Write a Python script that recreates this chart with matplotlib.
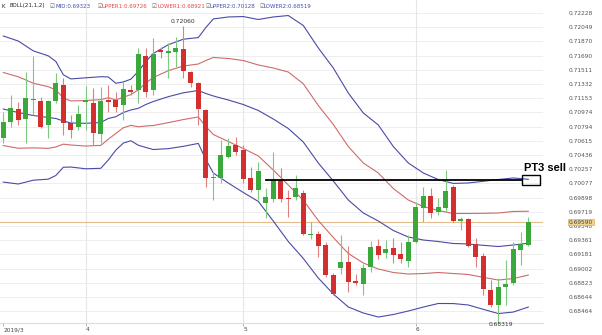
import matplotlib
matplotlib.use("Agg")
import matplotlib.pyplot as plt
import numpy as np

# ---------------- data ----------------
opens = [0.70647, 0.70849, 0.71016, 0.70886, 0.71126, 0.71117, 0.70811, 0.71117, 0.71319, 0.70836,
         0.70786, 0.71101, 0.71096, 0.70697, 0.71130, 0.71130, 0.71067, 0.71256, 0.71256, 0.71685,
         0.71256, 0.71761, 0.71727, 0.71740, 0.71770, 0.71487, 0.71341, 0.71004, 0.70142, 0.70142,
         0.70414, 0.70562, 0.70499, 0.70142, 0.69994, 0.69834, 0.69881, 0.70124, 0.69897, 0.69900,
         0.69953, 0.69430, 0.69433, 0.69304, 0.68922, 0.69006, 0.69089, 0.68846, 0.68814, 0.69026,
         0.69290, 0.69195, 0.69266, 0.69187, 0.69098, 0.69342, 0.69771, 0.69919, 0.69713, 0.69763,
         0.70036, 0.69607, 0.69624, 0.69309, 0.69161, 0.68732, 0.68543, 0.68766, 0.68824, 0.69237,
         0.69300]
highs = [0.70982, 0.71193, 0.71105, 0.71487, 0.71689, 0.71172, 0.71130, 0.71467, 0.71404, 0.70941,
         0.71067, 0.71307, 0.71278, 0.71298, 0.71319, 0.71235, 0.71361, 0.71319, 0.71782, 0.71782,
         0.71909, 0.71803, 0.71846, 0.71929, 0.72060, 0.71496, 0.71361, 0.71013, 0.70225, 0.70625,
         0.70647, 0.70667, 0.70562, 0.70288, 0.70351, 0.70016, 0.70478, 0.70272, 0.69994, 0.70184,
         0.69994, 0.69590, 0.69477, 0.69332, 0.68943, 0.69426, 0.69288, 0.68940, 0.69060, 0.69351,
         0.69382, 0.69363, 0.69385, 0.69342, 0.69426, 0.69847, 0.70036, 0.70016, 0.69893, 0.70247,
         0.70057, 0.69657, 0.69637, 0.69385, 0.69195, 0.68858, 0.68880, 0.69111, 0.69342, 0.69468,
         0.69657]
lows = [0.70587, 0.70793, 0.70815, 0.70584, 0.70941, 0.70773, 0.70654, 0.71088, 0.70688, 0.70647,
        0.70751, 0.70751, 0.70562, 0.70584, 0.70982, 0.70982, 0.70878, 0.71193, 0.71088, 0.71172,
        0.71193, 0.71656, 0.71404, 0.71550, 0.71404, 0.71298, 0.70815, 0.70036, 0.69868, 0.70079,
        0.70394, 0.70436, 0.70079, 0.69973, 0.69868, 0.69637, 0.69847, 0.69847, 0.69657, 0.69868,
        0.69426, 0.69376, 0.69152, 0.68890, 0.68670, 0.68934, 0.68701, 0.68795, 0.68663, 0.68959,
        0.69123, 0.69132, 0.69069, 0.69069, 0.69026, 0.69322, 0.69594, 0.69637, 0.69679, 0.69720,
        0.69594, 0.69489, 0.69275, 0.69026, 0.68670, 0.68521, 0.68319, 0.68543, 0.68795, 0.69048,
        0.69291]
closes = [0.70856, 0.71033, 0.70874, 0.71151, 0.71139, 0.70789, 0.71117, 0.71341, 0.70844, 0.70751,
          0.70957, 0.71126, 0.70710, 0.71117, 0.71109, 0.71045, 0.71269, 0.71227, 0.71707, 0.71235,
          0.71707, 0.71732, 0.71748, 0.71782, 0.71496, 0.71341, 0.71013, 0.70149, 0.70154, 0.70436,
          0.70553, 0.70478, 0.70133, 0.69994, 0.70230, 0.69910, 0.70117, 0.69884, 0.69884, 0.70016,
          0.69439, 0.69439, 0.69284, 0.68925, 0.68686, 0.69089, 0.68837, 0.68821, 0.69006, 0.69279,
          0.69174, 0.69250, 0.69174, 0.69120, 0.69342, 0.69776, 0.69919, 0.69700, 0.69776, 0.69982,
          0.69603, 0.69628, 0.69291, 0.69152, 0.68745, 0.68543, 0.68774, 0.68812, 0.69246, 0.69309,
          0.69590]

# Bollinger band (21, 1, 2) read at sampled candles: middle line and one standard deviation
boll_idx = [0, 2, 4, 6, 7, 8, 9, 11, 13, 14, 15, 16, 17, 18, 19, 20, 22, 24, 26, 27, 28, 29, 30,
            32, 34, 36, 38, 40, 42, 44, 46, 48, 50, 52, 54, 56, 58, 60, 62, 64, 66, 68, 70]
boll_mid = [0.71016, 0.70972, 0.70934, 0.70909, 0.70897, 0.70865, 0.70840, 0.70836, 0.70846, 0.70897,
            0.70919, 0.70972, 0.71004, 0.71025, 0.71073, 0.71111, 0.71172, 0.71221, 0.71250, 0.71212,
            0.71181, 0.71155, 0.71130, 0.71073, 0.70998, 0.70890, 0.70770, 0.70600, 0.70335, 0.70108,
            0.69868, 0.69704, 0.69603, 0.69483, 0.69401, 0.69363, 0.69344, 0.69319, 0.69313, 0.69296,
            0.69281, 0.69300, 0.69323]
boll_sd = [0.00461, 0.00451, 0.00408, 0.00389, 0.00360, 0.00292, 0.00278, 0.00287, 0.00289, 0.00262,
           0.00211, 0.00193, 0.00194, 0.00233, 0.00271, 0.00303, 0.00328, 0.00338, 0.00334, 0.00416,
           0.00486, 0.00505, 0.00524, 0.00555, 0.00574, 0.00644, 0.00713, 0.00735, 0.00726, 0.00713,
           0.00675, 0.00631, 0.00606, 0.00530, 0.00467, 0.00423, 0.00391, 0.00379, 0.00385, 0.00404,
           0.00423, 0.00423, 0.00403]

price_ticks = [0.72228, 0.72049, 0.71870, 0.71690, 0.71511, 0.71332, 0.71153, 0.70974, 0.70794,
               0.70615, 0.70436, 0.70257, 0.70077, 0.69898, 0.69719, 0.69540, 0.69361, 0.69181,
               0.69002, 0.68823, 0.68644, 0.68464]
day_idx = [0, 11, 32, 55]
day_labels = ["2019/3", "4", "5", "6"]

legend_items = [("MID", "0.69323", "#4050b0"), ("UPPER1", "0.69726", "#e04848"),
                ("LOWER1", "0.68921", "#e04848"), ("UPPER2", "0.70128", "#4050b0"),
                ("LOWER2", "0.68519", "#4050b0")]

pt3_level = 0.70120
pt3_start = 35
pt3_label = "PT3 sell"

# ---------------- drawing ----------------
W, H = 602, 335
fig = plt.figure(figsize=(W / 100, H / 100), dpi=100)
fig.patch.set_facecolor("white")
ax_left, ax_right, ax_top, ax_bot = 0, 543, 0, 323
ax = fig.add_axes([ax_left / W, 1 - ax_bot / H, (ax_right - ax_left) / W, (ax_bot - ax_top) / H])
ax.set_facecolor("white")

n = len(opens)
x = np.arange(n)
o = np.array(opens); c = np.array(closes); hi = np.array(highs); lo = np.array(lows)
up = c >= o
green, red = "#3aa83a", "#d42f2f"
green_w, red_w = "#7fc87f", "#e07f7f"

ymax = 0.72392
ymin = ymax - 0.0001262 * (ax_bot - ax_top)
ax.set_xlim(-0.44, 71.96)
ax.set_ylim(ymin, ymax)

# grid
for t in price_ticks:
    ax.axhline(t, color="#eeeeee", lw=0.7, zorder=0)
for d in day_idx[1:]:
    ax.axvline(d, color="#e6e6e6", lw=0.8, zorder=0)

# current price line
ax.axhline(closes[-1], color="#e3bd8c", lw=0.8, zorder=1)

# bands
bi = np.array(boll_idx)
bm = np.array(boll_mid); bs = np.array(boll_sd)
ax.plot(bi, bm, color="#4a4aa8", lw=0.8, zorder=2)
ax.plot(bi, bm + bs, color="#d06a6a", lw=0.8, zorder=2)
ax.plot(bi, bm - bs, color="#d06a6a", lw=0.8, zorder=2)
ax.plot(bi, bm + 2 * bs, color="#4a4aa8", lw=0.8, zorder=2)
ax.plot(bi, bm - 2 * bs, color="#4a4aa8", lw=0.8, zorder=2)

# candles
ax.vlines(x[up], lo[up], hi[up], color=green_w, lw=0.8, zorder=3)
ax.vlines(x[~up], lo[~up], hi[~up], color=red_w, lw=0.8, zorder=3)
body = np.maximum(np.abs(c - o), 0.00012)
bottom = np.minimum(o, c)
ax.bar(x[up], body[up], bottom=bottom[up], width=0.7, color=green, zorder=4, linewidth=0)
ax.bar(x[~up], body[~up], bottom=bottom[~up], width=0.7, color=red, zorder=4, linewidth=0)

# high / low annotations
ih = int(np.argmax(hi)); il = int(np.argmin(lo))
ax.annotate(f"{hi[ih]:.5f}", (ih, hi[ih]), xytext=(0, 1.5), textcoords="offset points",
            ha="center", va="bottom", fontsize=4.3, color="#333333")
ax.annotate(f"{lo[il]:.5f}", (il, lo[il]), xytext=(2, 0.3), textcoords="offset points",
            ha="center", va="top", fontsize=4.3, color="#333333", annotation_clip=False,
            zorder=8)

# PT3 sell line and box
ax.plot([pt3_start, 69.1], [pt3_level, pt3_level], color="black", lw=1.3, zorder=6, clip_on=False)
ax.add_patch(plt.Rectangle((69.1, pt3_level - 0.00059), 2.45, 0.00118, fill=False,
                           edgecolor="black", lw=1.0, zorder=6, clip_on=False))
ax.text(69.4, pt3_level + 0.00085, pt3_label, fontsize=8, fontweight="bold",
        family="Liberation Sans", ha="left", va="bottom", zorder=7, clip_on=False)

# axes styling
for s in ax.spines.values():
    s.set_visible(False)
ax.yaxis.tick_right()
ax.set_yticks(price_ticks)
ax.set_yticklabels([f"{t:.5f}" for t in price_ticks])
ax.tick_params(axis="y", length=0, pad=18.5, labelsize=4.2, labelcolor="#555555")
ax.set_xticks(day_idx)
ax.set_xticklabels(day_labels)
ax.tick_params(axis="x", length=2.5, width=0.5, color="#999999", pad=0.5, labelsize=4.2,
               labelcolor="#444444")
for lab in ax.get_xticklabels():
    lab.set_horizontalalignment("left")
ax.axhline(ymin, color="#dddddd", lw=0.8, clip_on=False)

# last price tag on the axis
ax.text(1.0 + 26 / 543, closes[-1], f"{closes[-1]:.5f}", transform=ax.get_yaxis_transform(),
        fontsize=4.2, color="#444444", ha="left", va="center",
        bbox=dict(boxstyle="square,pad=0.15", fc="#f2d48c", ec="#d8b060", lw=0.5))

# legend row
fx = lambda px: px / W
fy = 1 - 6 / H
fs = 4.0
fig.text(fx(2), fy, "K", fontsize=fs, color="#222222", va="center")
fig.text(fx(10), fy, "BOLL(21,1,2)", fontsize=fs, color="#222222", va="center")
xs = [50, 97, 152, 205, 259]
for (name, val, col), px in zip(legend_items, xs):
    fig.text(fx(px), fy, "\u2611", fontsize=fs, color="#666666", va="center")
    fig.text(fx(px + 5), fy, name + ":" + val, fontsize=fs, color=col, va="center")

fig.savefig("out.png", dpi=100, facecolor="white")
